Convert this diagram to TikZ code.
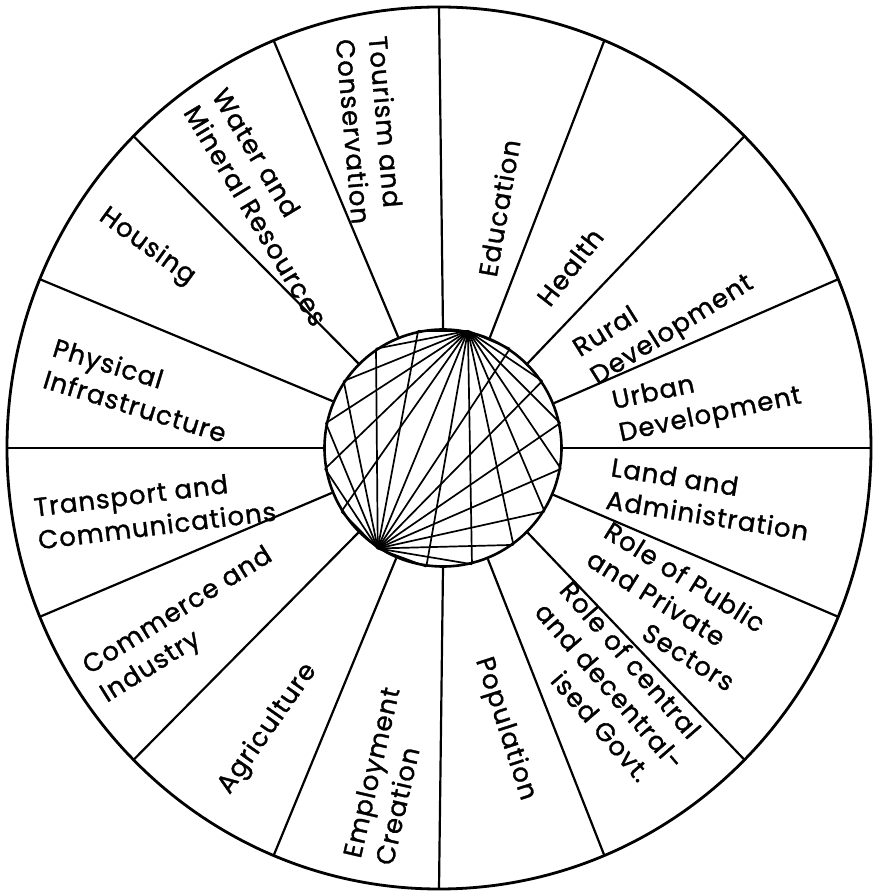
\documentclass[tikz,border=0pt]{standalone}
\usepackage{fontspec}
\setmainfont{Poppins}
\usepackage{tikz}
\newfontfamily\sectorfont[LetterSpace=4,FakeBold=1.2]{Poppins}
\begin{document}
\begin{tikzpicture}[x=0.5pt,y=0.5pt,line join=round,
    sector/.style={font=\sectorfont\fontsize{13}{16.5}\selectfont,align=left,inner sep=0pt},
    hub/.style={circle,draw,line width=1.3pt,minimum size=118.5pt,inner sep=0pt},
    spoke/.style={line width=1.1pt},
    chord/.style={line width=0.85pt}]
    \useasboundingbox (-439,-444) rectangle (435,448);
    % wheel
    \draw[line width=1.4pt] (0,0) ellipse [x radius=432,y radius=441];
    \node[hub] (hub) at (4,0) {};
    \foreach \a [count=\i] in {0,22.5,...,337.5}
      \coordinate (rim\i) at ({432*cos(\a)},{441*sin(\a)});
    \foreach \a [count=\i] in {0,22.5,...,337.5}
      \draw[spoke] (hub.\a) -- (rim\i);
    % links inside the hub
    \draw[chord] (hub.78) -- (hub.237);
    \foreach \b in {102,124,146,168,190,212,262,284,306,328,350,12,34,56}{
      \draw[chord] (hub.78) -- (hub.\b);
      \draw[chord] (hub.237) -- (hub.\b);
    }
    % sectors, right half
    \node[sector,rotate=80] (edu) at (60,240) {Education};
    \node[sector,rotate=52] (health) at (131,181) {Health};
    \node[sector,rotate=32] (rural) at (225,131) {Rural\\Development};
    \node[sector,rotate=12] (urban) at (268,48) {Urban\\Development};
    \node[sector,rotate=-9] (land) at (271,-51) {Land and\\Administration};
    \node[sector,rotate=-32] (public) at (231,-158) {Role of Public\\and Private\\\hspace*{3.3em}Sectors};
    \node[sector,rotate=-49] (central) at (171,-238) {Role of central\\and decentral-\\\hspace*{2.4em}ised Govt.};
    \node[sector,rotate=-72] (pop) at (66,-281) {Population};
    % sectors, left half
    \node[sector,rotate=77] (employ) at (-52,-328) {Employment\\Creation};
    \node[sector,rotate=55] (agri) at (-171,-281) {Agriculture};
    \node[sector,rotate=32] (commerce) at (-252,-178) {Commerce and\\Industry};
    \node[sector,rotate=7] (transport) at (-284,-61) {Transport and\\Communications};
    \node[sector,rotate=-17] (physical) at (-299,58) {Physical\\Infrastructure};
    \node[sector,rotate=-36] (housing) at (-292,201) {Housing};
    \node[sector,rotate=-59] (water) at (-169,241) {Water and\\Mineral Resources};
    \node[sector,rotate=-85] (tourism) at (-69,318) {Tourism and\\Conservation};
\end{tikzpicture}
\end{document}
